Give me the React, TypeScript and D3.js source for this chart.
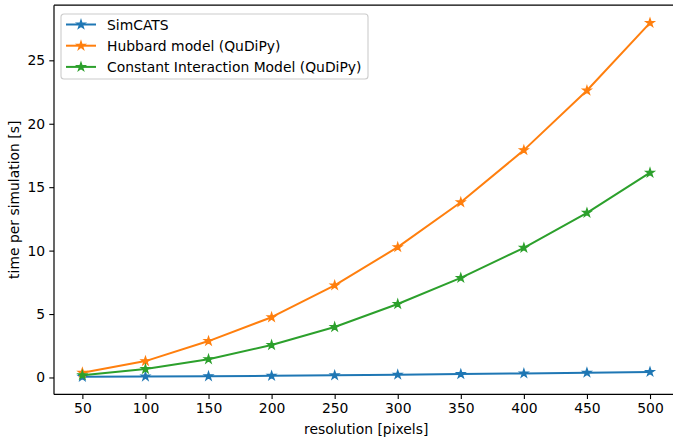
import React, { useEffect, useRef } from 'react';
import * as d3 from 'd3';

const resolutions = [50, 100, 150, 200, 250, 300, 350, 400, 450, 500];
const simcats = [0.06, 0.08, 0.1, 0.13, 0.17, 0.22, 0.27, 0.32, 0.38, 0.44];
const hubbard = [0.38, 1.29, 2.87, 4.75, 7.26, 10.27, 13.81, 17.92, 22.62, 27.95];
const constantInteraction = [0.18, 0.67, 1.44, 2.56, 3.98, 5.79, 7.85, 10.22, 12.98, 16.14];
const seriesNames = ['SimCATS', 'Hubbard model (QuDiPy)', 'Constant Interaction Model (QuDiPy)'];
const seriesColors = ['#1f77b4', '#ff7f0e', '#2ca02c'];
const xTicks = [50, 100, 150, 200, 250, 300, 350, 400, 450, 500];
const yTicks = [0, 5, 10, 15, 20, 25];

export default function App() {
    const ref = useRef<SVGSVGElement>(null);

    const width = 673;
    const height = 439;
    const margin = { top: 5.2, right: -5.4, bottom: 44.6, left: 54 };
    const font = 'DejaVu Sans, sans-serif';
    const fontSize = 13.9;

    useEffect(() => {
        const svg = d3.select(ref.current);
        svg.selectAll('*').remove();

        const innerW = width - margin.left - margin.right;
        const innerH = height - margin.top - margin.bottom;

        const allSeries = [simcats, hubbard, constantInteraction];
        const xMin = d3.min(resolutions)!, xMax = d3.max(resolutions)!;
        const yMin = d3.min(allSeries.flat())!, yMax = d3.max(allSeries.flat())!;
        const xPad = (xMax - xMin) * 0.05, yPad = (yMax - yMin) * 0.05;

        const xScale = d3.scaleLinear().domain([xMin - xPad, xMax + xPad]).range([0, innerW]);
        const yScale = d3.scaleLinear().domain([yMin - yPad, yMax + yPad]).range([innerH, 0]);

        const g = svg.append('g').attr('transform', `translate(${margin.left},${margin.top})`);

        // axes
        const xAxis = g.append('g')
            .attr('transform', `translate(0,${innerH})`)
            .call(d3.axisBottom(xScale).tickValues(xTicks).tickSize(4.7).tickPadding(4.2));
        const yAxis = g.append('g')
            .call(d3.axisLeft(yScale).tickValues(yTicks).tickSize(4.7).tickPadding(4.2));

        [xAxis, yAxis].forEach(ax => {
            ax.selectAll('.domain').remove();
            ax.selectAll('.tick line').attr('stroke', '#000').attr('stroke-width', 1.1);
            ax.selectAll('.tick text')
                .attr('fill', '#000')
                .style('font-family', font)
                .style('font-size', fontSize + 'px');
        });

        // spines
        const spines = [
            [0, 0, innerW, 0],
            [0, innerH, innerW, innerH],
            [0, 0, 0, innerH],
            [innerW, 0, innerW, innerH],
        ];
        spines.forEach(([x1, y1, x2, y2]) => {
            g.append('line')
                .attr('x1', x1).attr('y1', y1).attr('x2', x2).attr('y2', y2)
                .attr('stroke', '#000').attr('stroke-width', 1.2);
        });

        // lines + markers
        const line = d3.line<number>()
            .x((_, i) => xScale(resolutions[i]))
            .y(d => yScale(d));

        const starR = 4.3;
        const star = d3.symbol().type(d3.symbolStar).size(starR * starR / 0.8908130915292852);

        allSeries.forEach((values, si) => {
            g.append('path')
                .datum(values)
                .attr('fill', 'none')
                .attr('stroke', seriesColors[si])
                .attr('stroke-width', 2)
                .attr('stroke-linejoin', 'round')
                .attr('d', line);

            g.selectAll(`.marker-${si}`)
                .data(values)
                .enter()
                .append('path')
                .attr('class', `marker-${si}`)
                .attr('transform', (d, i) => `translate(${xScale(resolutions[i])},${yScale(d)})`)
                .attr('d', star)
                .attr('fill', seriesColors[si])
                .attr('stroke', seriesColors[si])
                .attr('stroke-width', 1.3);
        });

        // axis labels
        svg.append('text')
            .attr('x', margin.left + innerW / 2)
            .attr('y', 434)
            .attr('text-anchor', 'middle')
            .style('font-family', font)
            .style('font-size', fontSize + 'px')
            .text('resolution [pixels]');

        svg.append('text')
            .attr('transform', `translate(19,${margin.top + innerH / 2}) rotate(-90)`)
            .attr('text-anchor', 'middle')
            .style('font-family', font)
            .style('font-size', fontSize + 'px')
            .text('time per simulation [s]');

        // legend
        const legend = svg.append('g').attr('transform', 'translate(61,14)');
        legend.append('rect')
            .attr('x', 0).attr('y', 0)
            .attr('width', 307).attr('height', 65)
            .attr('rx', 3)
            .attr('fill', 'rgba(255,255,255,0.8)')
            .attr('stroke', '#cccccc')
            .attr('stroke-width', 1.1);

        seriesNames.forEach((name, i) => {
            const cy = 10.5 + i * 21.2;
            const row = legend.append('g').attr('transform', `translate(0,${cy})`);
            row.append('line')
                .attr('x1', 5).attr('x2', 35)
                .attr('y1', 0).attr('y2', 0)
                .attr('stroke', seriesColors[i])
                .attr('stroke-width', 2);
            row.append('path')
                .attr('transform', 'translate(20,0)')
                .attr('d', star)
                .attr('fill', seriesColors[i])
                .attr('stroke', seriesColors[i])
                .attr('stroke-width', 1.3);
            row.append('text')
                .attr('x', 46)
                .attr('y', 0)
                .attr('dy', '0.36em')
                .style('font-family', font)
                .style('font-size', fontSize + 'px')
                .text(name);
        });
    }, []);

    return (
        <svg
            ref={ref}
            width={width}
            height={height}
            style={{ position: 'absolute', left: 0, top: 0, background: '#fff' }}
        />
    );
}
